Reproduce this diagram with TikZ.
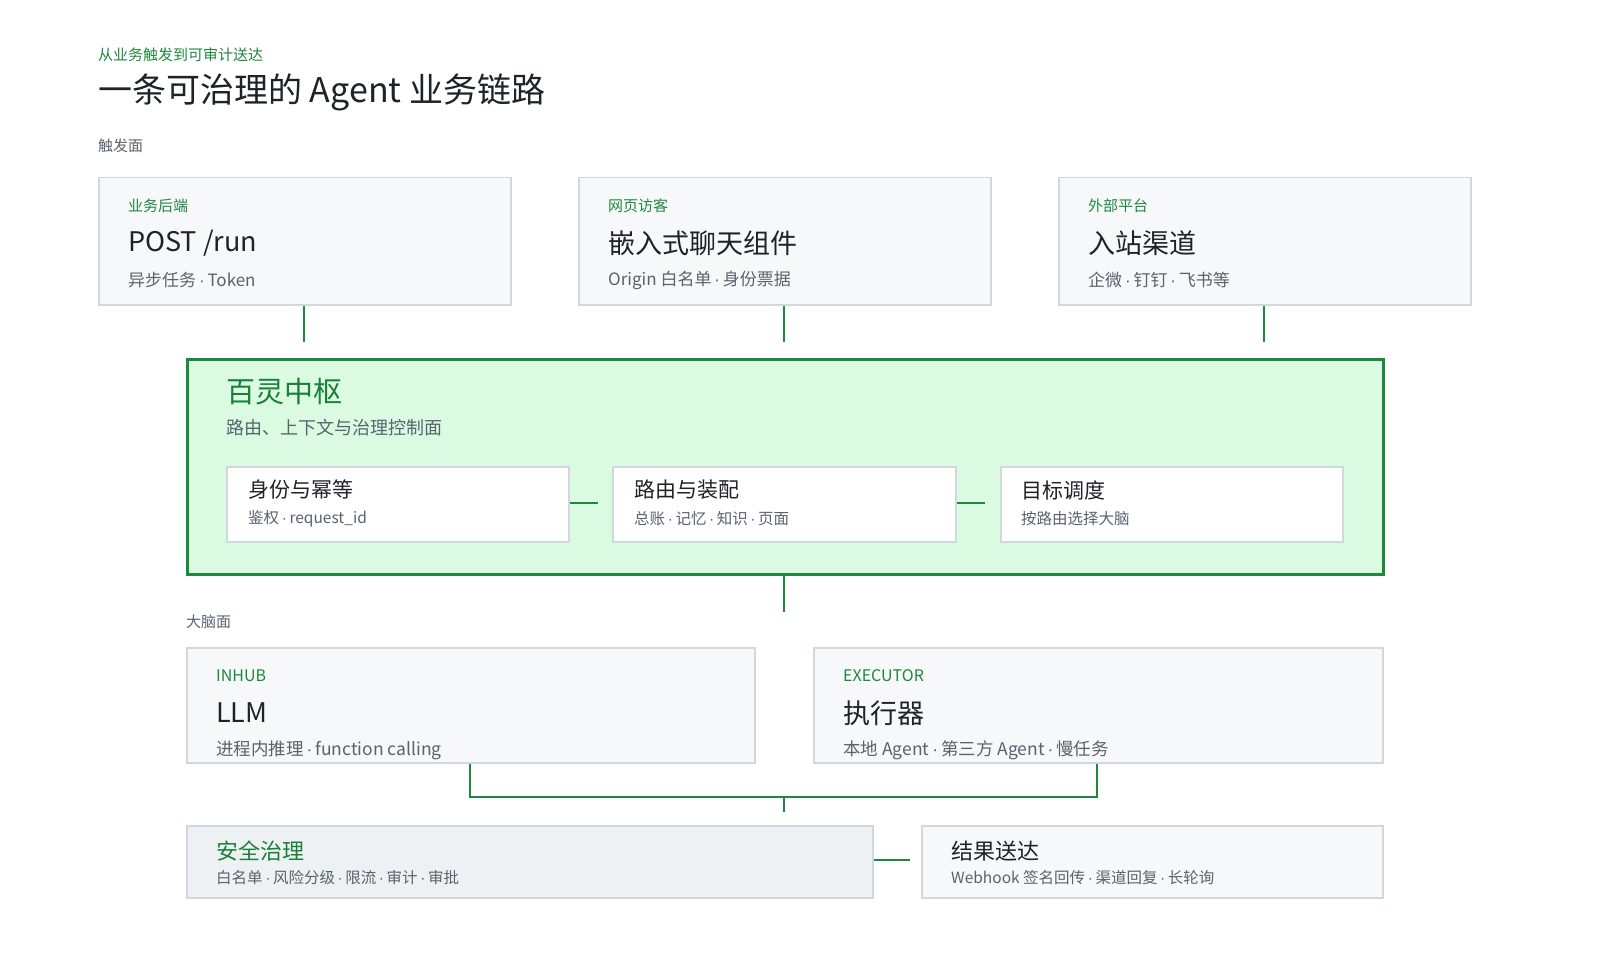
\documentclass[tikz,border=0pt]{standalone}
\usepackage{fontspec}
\setmainfont{Noto Sans CJK SC}
\newfontfamily\latf{Liberation Sans}
\newcommand{\md}{{\latf\,·\,}}
\definecolor{gr}{HTML}{1F883D}
\definecolor{dgr}{HTML}{1A7F37}
\definecolor{bd}{HTML}{D0D7DE}
\definecolor{bx}{HTML}{F6F8FA}
\definecolor{bx2}{HTML}{EEF1F4}
\definecolor{hub}{HTML}{DAFBE1}
\definecolor{tx}{HTML}{1F2328}
\definecolor{mu}{HTML}{59636E}
\newcommand{\fs}[1]{\fontsize{#1}{#1}\selectfont}
\begin{document}
\begin{tikzpicture}[x=1pt,y=-1pt,
  box/.style={draw=bd,line width=1.5pt,fill=bx},
  ibox/.style={draw=bd,line width=1.5pt,fill=white},
  lab/.style={anchor=west,inner sep=0,text=gr,font=\fs{15}},
  ttl/.style={anchor=west,inner sep=0,text=tx,font=\fs{27}},
  sub/.style={anchor=west,inner sep=0,text=mu,font=\fs{17}},
  con/.style={draw=gr,line width=2.5pt}]
\useasboundingbox (0,0) rectangle (1600,960);
\node[lab] (k) at (98,55) {从业务触发到可审计送达};
\node[anchor=west,inner sep=0,text=tx,font=\fs{34}] (t) at (98,92) {一条可治理的 Agent 业务链路};
\node[anchor=west,inner sep=0,text=mu,font=\fs{15}] (s1) at (98,146) {触发面};
% top boxes
\node[box,minimum width=412,minimum height=127,anchor=north west,inner sep=0] (b1) at (98,177) {};
\node[box,minimum width=412,minimum height=127,anchor=north west,inner sep=0] (b2) at (578,177) {};
\node[box,minimum width=412,minimum height=127,anchor=north west,inner sep=0] (b3) at (1058,177) {};
\node[lab] (l1) at (128,206) {业务后端};
\node[ttl] (t1) at (128,243) {POST /run};
\node[sub] (u1) at (128,280) {异步任务\md Token};
\node[lab] (l2) at (608,206) {网页访客};
\node[ttl] (t2) at (608,243) {嵌入式聊天组件};
\node[sub] (u2) at (608,280) {Origin 白名单\md 身份票据};
\node[lab] (l3) at (1088,206) {外部平台};
\node[ttl] (t3) at (1088,243) {入站渠道};
\node[sub] (u3) at (1088,280) {企微\md 钉钉\md 飞书等};
\coordinate (e1) at (304,342); \coordinate (e2) at (784,342); \coordinate (e3) at (1264,342);
\draw[con] (b1.south -| e1) -- (e1); \draw[con] (b2.south -| e2) -- (e2); \draw[con] (b3.south -| e3) -- (e3);
% hub
\node[draw=gr,line width=3pt,fill=hub,minimum width=1196,minimum height=215,anchor=north west,inner sep=0] (h) at (186,358) {};
\node[anchor=west,inner sep=0,text=dgr,font=\fs{29}] (ht) at (226,392) {百灵中枢};
\node[anchor=west,inner sep=0,text=mu,font=\fs{18}] (hs) at (226,428) {路由、上下文与治理控制面};
\node[ibox,minimum width=342,minimum height=75,anchor=north west,inner sep=0] (i1) at (226,466) {};
\node[ibox,minimum width=343,minimum height=75,anchor=north west,inner sep=0] (i2) at (612,466) {};
\node[ibox,minimum width=342,minimum height=75,anchor=north west,inner sep=0] (i3) at (1000,466) {};
\node[anchor=west,inner sep=0,text=tx,font=\fs{21}] at (248,490) {身份与幂等};
\node[anchor=west,inner sep=0,text=mu,font=\fs{15.5}] at (248,519) {鉴权\md request\_id};
\node[anchor=west,inner sep=0,text=tx,font=\fs{21}] at (634,490) {路由与装配};
\node[anchor=west,inner sep=0,text=mu,font=\fs{15.5}] at (634,519) {总账\md 记忆\md 知识\md 页面};
\node[anchor=west,inner sep=0,text=tx,font=\fs{21}] at (1021,490) {目标调度};
\node[anchor=west,inner sep=0,text=mu,font=\fs{15.5}] at (1021,519) {按路由选择大脑};
\coordinate (c1) at (598,503); \coordinate (c2) at (985,503);
\draw[con] (i1.east |- c1) -- (c1); \draw[con] (i2.east |- c2) -- (c2);
\coordinate (hb) at (784,612);
\draw[con] (h.south -| hb) -- (hb);
\node[anchor=west,inner sep=0,text=mu,font=\fs{15}] (s2) at (186,622) {大脑面};
% brain
\node[box,minimum width=568,minimum height=115,anchor=north west,inner sep=0] (m1) at (186,647) {};
\node[box,minimum width=569,minimum height=115,anchor=north west,inner sep=0] (m2) at (813,647) {};
\node[lab,font=\fs{16}] at (216,676) {INHUB};
\node[ttl] at (216,713) {LLM};
\node[sub,font=\fs{17.5}] at (216,750) {进程内推理\md function calling};
\node[lab,font=\fs{16}] at (843,676) {EXECUTOR};
\node[ttl] at (843,713) {执行器};
\node[sub,font=\fs{17.5}] at (843,750) {本地 Agent\md 第三方 Agent\md 慢任务};
\coordinate (p1) at (470,762); \coordinate (p2) at (1097,762); \coordinate (pm) at (784,797); \coordinate (pe) at (784,812);
\draw[con] (m1.south -| p1) |- (pm) -| (m2.south -| p2);
\draw[con] (pm) -- (pe);
% bottom
\node[box,fill=bx2,minimum width=686,minimum height=72,anchor=north west,inner sep=0] (g1) at (186,825) {};
\node[box,minimum width=461,minimum height=72,anchor=north west,inner sep=0] (g2) at (921,825) {};
\node[anchor=west,inner sep=0,text=dgr,font=\fs{22}] at (216,851) {安全治理};
\node[anchor=west,inner sep=0,text=mu,font=\fs{15.5}] at (216,878) {白名单\md 风险分级\md 限流\md 审计\md 审批};
\node[anchor=west,inner sep=0,text=tx,font=\fs{22}] at (951,851) {结果送达};
\node[anchor=west,inner sep=0,text=mu,font=\fs{15.5}] at (951,878) {Webhook 签名回传\md 渠道回复\md 长轮询};
\coordinate (gc) at (910,860);
\draw[con] (g1.east |- gc) -- (gc);
\end{tikzpicture}
\end{document}
